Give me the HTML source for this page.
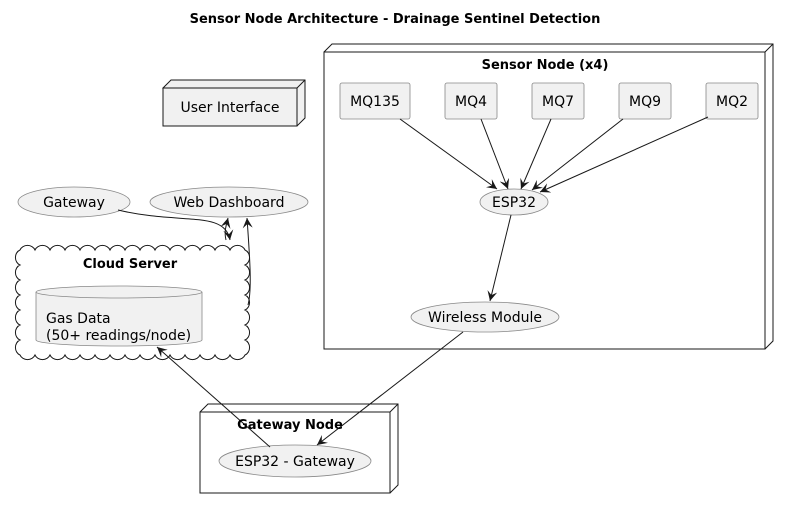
<!DOCTYPE html>
<html><head><style>body{margin:0;background:#fff}svg{display:block}</style></head><body>
<svg width="790" height="509" viewBox="0 0 790 509" xmlns="http://www.w3.org/2000/svg" font-family="'DejaVu Sans','Liberation Sans',sans-serif">
<defs><marker id="a" viewBox="0 0 10 10" refX="10" refY="5" markerWidth="10" markerHeight="10" orient="auto" markerUnits="userSpaceOnUse"><path d="M0,0 L10,5 L0,10 L4,5 Z" fill="#181818"/></marker></defs>
<text x="395" y="23" text-anchor="middle" font-size="13" font-weight="bold">Sensor Node Architecture - Drainage Sentinel Detection</text>
<g fill="#f1f1f1" stroke="#181818" stroke-width="1">
<path d="M163,88 L171,80 L305,80 L305,118 L297,126 Z" fill="#f1f1f1"/>
<rect x="163" y="88" width="134" height="38"/>
<path d="M297,88 L305,80" fill="none"/>
<path d="M324,52 L332,44 L773,44 L773,341 L765,349" fill="#fff"/>
<rect x="324" y="52" width="441" height="297" fill="#fff"/>
<path d="M765,52 L773,44" fill="none"/>
<path d="M200,412 L208,404 L398,404 L398,485 L390,493" fill="#fff"/>
<rect x="200" y="412" width="190" height="81" fill="#fff"/>
<path d="M390,412 L398,404" fill="none"/>
<g stroke="#888" stroke-width="0.8">
<rect x="340" y="83" width="70" height="36" rx="2"/>
<rect x="445" y="83" width="52" height="36" rx="2"/>
<rect x="532" y="83" width="52" height="36" rx="2"/>
<rect x="619" y="83" width="52" height="36" rx="2"/>
<rect x="706" y="83" width="52" height="36" rx="2"/>
<ellipse cx="514" cy="202" rx="34" ry="13"/>
<ellipse cx="485" cy="317" rx="74" ry="15"/>
<ellipse cx="74" cy="202" rx="56" ry="15"/>
<ellipse cx="229" cy="202" rx="79" ry="15"/>
<ellipse cx="295" cy="461" rx="76" ry="16"/>
</g>
<path fill="#fff" d="M20,250 a8,7 0 0,1 15,0 a8,7 0 0,1 15,0 a8,7 0 0,1 15,0 a8,7 0 0,1 15,0 a8,7 0 0,1 15,0 a8,7 0 0,1 15,0 a8,7 0 0,1 15,0 a8,7 0 0,1 15,0 a8,7 0 0,1 15,0 a8,7 0 0,1 15,0 a8,7 0 0,1 15,0 a8,7 0 0,1 15,0 a8,7 0 0,1 15,0 a8,7 0 0,1 15,0 a8,7 0 0,1 15,0 a7,8 0 0,1 0,15 a7,8 0 0,1 0,15 a7,8 0 0,1 0,15 a7,8 0 0,1 0,15 a7,8 0 0,1 0,15 a7,8 0 0,1 0,15 a7,8 0 0,1 0,15 a8,7 0 0,1 -15,0 a8,7 0 0,1 -15,0 a8,7 0 0,1 -15,0 a8,7 0 0,1 -15,0 a8,7 0 0,1 -15,0 a8,7 0 0,1 -15,0 a8,7 0 0,1 -15,0 a8,7 0 0,1 -15,0 a8,7 0 0,1 -15,0 a8,7 0 0,1 -15,0 a8,7 0 0,1 -15,0 a8,7 0 0,1 -15,0 a8,7 0 0,1 -15,0 a8,7 0 0,1 -15,0 a8,7 0 0,1 -15,0 a7,8 0 0,1 0,-15 a7,8 0 0,1 0,-15 a7,8 0 0,1 0,-15 a7,8 0 0,1 0,-15 a7,8 0 0,1 0,-15 a7,8 0 0,1 0,-15 a7,8 0 0,1 0,-15 Z"/>
<g stroke="#888" stroke-width="0.8">
<path d="M36,292 L36,340 A83,6 0 0,0 202,340 L202,292"/>
<ellipse cx="119" cy="292" rx="83" ry="6"/>
</g>
</g>
<g stroke="#181818" stroke-width="1" fill="none" marker-end="url(#a)">
<line x1="400" y1="119" x2="497" y2="189"/>
<line x1="481" y1="119" x2="508" y2="189"/>
<line x1="551" y1="119" x2="521" y2="189"/>
<line x1="623" y1="119" x2="532" y2="190"/>
<line x1="708" y1="117" x2="540" y2="192"/>
<line x1="511" y1="215" x2="490" y2="301"/>
<line x1="463" y1="332" x2="317" y2="445"/>
<line x1="270" y1="447" x2="157" y2="347"/>
<path d="M118,210 C180,225 225,210 230,240"/>
<path d="M226,240 C224,232 226,226 228,218"/>
<path d="M248,305 C252,290 250,260 247,218"/>
</g>
<g font-size="14" text-anchor="middle" fill="#000">
<text x="230" y="112">User Interface</text>
<text x="545" y="69" font-weight="bold" font-size="13">Sensor Node (x4)</text>
<text x="375" y="106">MQ135</text>
<text x="471" y="106">MQ4</text>
<text x="558" y="106">MQ7</text>
<text x="645" y="106">MQ9</text>
<text x="732" y="106">MQ2</text>
<text x="514" y="207">ESP32</text>
<text x="485" y="322">Wireless Module</text>
<text x="74" y="207">Gateway</text>
<text x="229" y="207">Web Dashboard</text>
<text x="130" y="268" font-weight="bold" font-size="13">Cloud Server</text>
<text x="46" y="323" text-anchor="start">Gas Data</text>
<text x="46" y="340" text-anchor="start">(50+ readings/node)</text>
<text x="290" y="429" font-weight="bold" font-size="13">Gateway Node</text>
<text x="295" y="466">ESP32 - Gateway</text>
</g>
</svg>
</body></html>
